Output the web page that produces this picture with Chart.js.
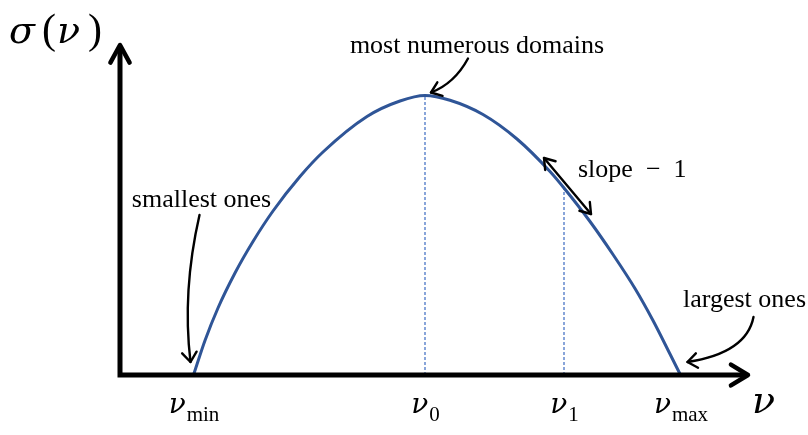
<!DOCTYPE html>
<html>
<head>
<meta charset="utf-8">
<script src="https://cdn.jsdelivr.net/npm/chart.js@4/dist/chart.umd.min.js"></script>
<style>
  html, body { margin: 0; padding: 0; background: #fff; }
  #wrap { width: 808px; height: 435px; position: relative; }
</style>
</head>
<body>
<div id="wrap"><canvas id="c"></canvas></div>
<script>
// Domain-size distribution sigma(nu): samples along the curve
const nu    = [73.5, 85, 98, 115, 133, 153, 180, 203, 247, 280, 305, 330, 363, 397, 430, 444, 470, 493, 515, 533, 550, 560.5];
const sigma = [0, 34.5, 67, 102, 133.5, 164, 198.5, 223, 258.5, 274, 279.5, 274.75, 260.5, 236, 203.5, 187, 153.5, 120.5, 86.5, 54.5, 21, 0];

// Marked abscissae and their subscripts
const tickNu  = [73.5, 305, 444, 560.5];
const tickSub = ['min', '0', '1', 'max'];

// Axis extents
const nuMax = 628;
const sigmaMax = 330;

const curveBlue = '#2f5597';
const guideBlue = '#4a76c6';
const serif = '"Liberation Serif", "Times New Roman", serif';
const greek = '"DejaVu Serif", "Liberation Serif", serif';

const curvePts = nu.map((v, i) => ({ x: v, y: sigma[i] }));
const peakIdx = sigma.indexOf(Math.max(...sigma));
const nu1Idx = nu.indexOf(tickNu[2]);

function guide(i) {
  return {
    data: [{ x: nu[i], y: 0 }, { x: nu[i], y: sigma[i] }],
    borderColor: guideBlue,
    borderWidth: 1.3,
    borderDash: [3, 2],
    pointRadius: 0,
    showLine: true,
    order: 2
  };
}

function head(ctx, tx, ty, ang, len, spread) {
  ctx.beginPath();
  ctx.moveTo(tx - len * Math.cos(ang - spread), ty - len * Math.sin(ang - spread));
  ctx.lineTo(tx, ty);
  ctx.lineTo(tx - len * Math.cos(ang + spread), ty - len * Math.sin(ang + spread));
  ctx.stroke();
}

function curvedArrow(ctx, ax, ay, s, c, e) {
  const sx = ax + s[0], sy = ay + s[1];
  const cx = ax + c[0], cy = ay + c[1];
  const ex = ax + e[0], ey = ay + e[1];
  ctx.beginPath();
  ctx.moveTo(sx, sy);
  ctx.quadraticCurveTo(cx, cy, ex, ey);
  ctx.stroke();
  head(ctx, ex, ey, Math.atan2(ey - cy, ex - cx), 12, 0.65);
}

const decor = {
  id: 'decor',
  afterDatasetsDraw(chart) {
    const { ctx, chartArea: a, scales: { x, y } } = chart;
    const x0 = x.getPixelForValue(0);
    const y0 = y.getPixelForValue(0);
    ctx.save();
    ctx.strokeStyle = '#000';
    ctx.fillStyle = '#000';
    ctx.lineJoin = 'round';

    // axes with open arrowheads
    ctx.lineWidth = 5;
    ctx.lineCap = 'butt';
    ctx.beginPath();
    ctx.moveTo(x0 - 2.5, y0);
    ctx.lineTo(a.right - 3, y0);
    ctx.moveTo(x0, y0 + 2.5);
    ctx.lineTo(x0, a.top + 3);
    ctx.stroke();
    ctx.lineCap = 'round';
    ctx.lineWidth = 4.5;
    head(ctx, a.right, y0, 0, 20, 0.55);
    head(ctx, x0, a.top, -Math.PI / 2, 20, 0.5);

    // annotation arrows
    ctx.lineWidth = 2.4;
    const pMin = x.getPixelForValue(tickNu[0]);
    const pMax = x.getPixelForValue(tickNu[3]);
    const pkX = x.getPixelForValue(nu[peakIdx]), pkY = y.getPixelForValue(sigma[peakIdx]);
    const qX = x.getPixelForValue(nu[nu1Idx]), qY = y.getPixelForValue(sigma[nu1Idx]);

    curvedArrow(ctx, pMin, y0, [6, -160], [-11.5, -83.5], [-3, -13]);
    curvedArrow(ctx, pkX, pkY, [43, -37], [29.5, -12], [6, -3]);
    curvedArrow(ctx, pMax, y0, [73, -58], [66, -22], [7, -13]);

    // tangent double arrow at nu_1
    const s1x = qX - 20, s1y = qY - 30, s2x = qX + 27, s2y = qY + 26;
    ctx.beginPath();
    ctx.moveTo(s1x, s1y);
    ctx.lineTo(s2x, s2y);
    ctx.stroke();
    const ang = Math.atan2(s2y - s1y, s2x - s1x);
    head(ctx, s2x, s2y, ang, 12, 0.6);
    head(ctx, s1x, s1y, ang + Math.PI, 12, 0.6);

    // annotation text
    ctx.font = '26px ' + serif;
    ctx.textBaseline = 'alphabetic';
    ctx.textAlign = 'center';
    ctx.fillText('smallest ones', pMin + 8, y0 - 168);
    ctx.fillText('most numerous domains', pkX + 52, pkY - 43);
    ctx.fillText('largest ones', pMax + 64, y0 - 68);
    ctx.textAlign = 'left';
    ctx.fillText('slope  \u2212  1', qX + 14, qY - 11);

    // tick labels: italic nu with roman subscript
    tickNu.forEach((v, i) => {
      const px = x.getPixelForValue(v);
      ctx.font = 'italic 28px ' + greek;
      const wMain = ctx.measureText('\u03BD').width;
      ctx.font = '21px ' + serif;
      const wSub = ctx.measureText(tickSub[i]).width;
      const left = px - (wMain + wSub) / 2;
      ctx.textAlign = 'left';
      ctx.font = 'italic 28px ' + greek;
      ctx.fillText('\u03BD', left, y0 + 38);
      ctx.font = '21px ' + serif;
      ctx.fillText(tickSub[i], left + wMain + 1, y0 + 46);
    });

    // axis titles
    ctx.textAlign = 'left';
    ctx.font = 'italic 38px ' + greek;
    ctx.fillText('\u03BD', a.right + 4, y0 + 38);
    ctx.fillText('\u03C3', 9, 43);
    ctx.fillText('\u03BD', 57, 43);
    ctx.font = '42px ' + serif;
    ctx.fillText('(', 42, 43);
    ctx.fillText(')', 88, 43);
    ctx.restore();
  }
};

new Chart(document.getElementById('c'), {
  type: 'scatter',
  data: {
    datasets: [
      {
        data: curvePts,
        borderColor: curveBlue,
        borderWidth: 3,
        showLine: true,
        pointRadius: 0,
        cubicInterpolationMode: 'monotone',
        order: 1
      },
      guide(peakIdx),
      guide(nu1Idx)
    ]
  },
  options: {
    responsive: true,
    maintainAspectRatio: false,
    animation: false,
    events: [],
    layout: { padding: { left: 120, right: 60, top: 45, bottom: 60 } },
    plugins: { legend: { display: false }, tooltip: { enabled: false } },
    scales: {
      x: { type: 'linear', min: 0, max: nuMax, display: false },
      y: { type: 'linear', min: 0, max: sigmaMax, display: false }
    }
  },
  plugins: [decor]
});
</script>
</body>
</html>
